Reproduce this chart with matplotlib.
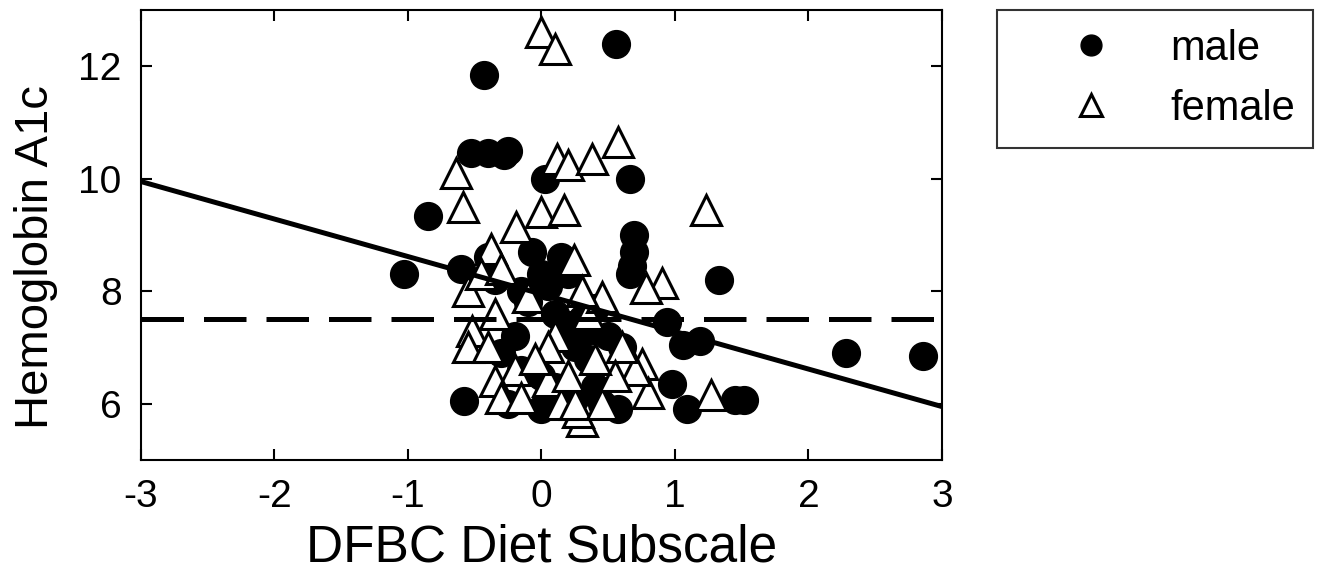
import matplotlib.pyplot as plt
import numpy as np

plt.rcParams["font.family"] = ["Liberation Sans", "DejaVu Sans"]
plt.rcParams["axes.unicode_minus"] = False

# values
male_x = [-0.43, 0.56, -0.53, -0.40, -0.28, -0.25, 0.03, 0.66, -0.85, -1.03,
          0.69, 0.69, 0.68, 0.66, 1.33, -0.07, 0.94, 1.06, 1.19, 2.28,
          2.86, -0.58, 0.57, 1.09, 1.45, 1.52, 0.98, -0.60, -0.35, -0.15,
          0.00, 0.05, -0.10, 0.10, 0.20, 0.30, 0.35, 0.25, 0.40, -0.20,
          -0.30, -0.15, 0.00, 0.10, 0.25, -0.25, 0.00, 0.40, 0.35, 0.50,
          0.60, 0.45, -0.40, 0.15, 0.20]
male_y = [11.84, 12.39, 10.45, 10.45, 10.42, 10.50, 10.0, 10.0, 9.34, 8.30,
          9.00, 8.70, 8.45, 8.30, 8.20, 8.70, 7.45, 7.05, 7.12, 6.90,
          6.84, 6.05, 5.90, 5.90, 6.07, 6.07, 6.35, 8.40, 8.20, 8.00,
          8.30, 8.10, 7.80, 7.60, 7.40, 7.50, 7.30, 7.00, 7.70, 7.20,
          6.90, 6.60, 6.50, 6.30, 6.10, 6.00, 5.90, 6.30, 6.80, 7.20,
          7.00, 6.00, 8.60, 8.60, 8.30]

female_x = [0.00, 0.10, -0.64, -0.59, 0.12, 0.20, 0.38, 0.57, 0.00, 0.17,
            1.23, -0.19, -0.38, 0.24, 0.90, 0.78, 1.27, 0.75, 0.30, 0.27,
            0.80, 0.70, -0.55, -0.52, -0.55, -0.45, -0.30, -0.35, -0.40, -0.20,
            -0.35, -0.30, -0.15, 0.05, 0.15, 0.25, 0.45, 0.10, 0.35, 0.45,
            0.30, 0.60, -0.10, 0.05, 0.55, 0.20, 0.40, -0.05]
female_y = [12.60, 12.30, 10.10, 9.50, 10.35, 10.25, 10.35, 10.65, 9.40, 9.45,
            9.45, 9.15, 8.75, 8.55, 8.15, 8.05, 6.15, 6.70, 5.70, 5.85,
            6.20, 6.60, 8.00, 7.30, 7.00, 8.30, 8.40, 7.60, 7.00, 6.60,
            6.40, 6.10, 6.10, 6.40, 6.00, 6.00, 6.00, 7.20, 7.60, 7.90,
            8.00, 7.00, 7.90, 7.00, 6.50, 6.50, 6.80, 6.80]

fit_x = [-3, 3]
fit_y = [9.95, 5.95]
target = 7.5

fig = plt.figure(figsize=(13.2, 5.86), dpi=100)
ax = fig.add_axes([0.1068, 0.215, 0.6068, 0.768])

ax.plot(male_x, male_y, "o", color="black", markersize=20, linestyle="none", label="male")
ax.plot(female_x, female_y, "^", markerfacecolor="white", markeredgecolor="black",
        markeredgewidth=2.2, markersize=22, linestyle="none", label="female")
ax.plot(fit_x, fit_y, "-", color="black", linewidth=3.6)
ax.plot(fit_x, [target, target], "--", color="black", linewidth=3.6, dashes=(8.5, 4))

ax.set_xlim(-3, 3)
ax.set_ylim(5, 13)
ax.set_xticks(np.arange(-3, 4, 1))
ax.set_yticks([6, 8, 10, 12])
ax.tick_params(direction="in", length=8, width=1.5, labelsize=28, pad=14,
               top=True, right=True)
for s in ax.spines.values():
    s.set_linewidth(1.5)

ax.set_xlabel("DFBC Diet Subscale", fontsize=37, labelpad=6)
ax.set_ylabel("Hemoglobin A1c", fontsize=34)
ax.yaxis.set_label_coords(-0.104, 0.45)

leg = ax.legend(loc="upper left", bbox_to_anchor=(997 / 1320, 1 - 10 / 586),
                bbox_transform=fig.transFigure, fontsize=30, frameon=True,
                fancybox=False, edgecolor="black", borderpad=0.45,
                handlelength=3.6, handletextpad=0.1, labelspacing=0.48,
                markerscale=0.75, borderaxespad=0)
leg.get_frame().set_linewidth(1.5)

fig.savefig("out.png", dpi=100)
